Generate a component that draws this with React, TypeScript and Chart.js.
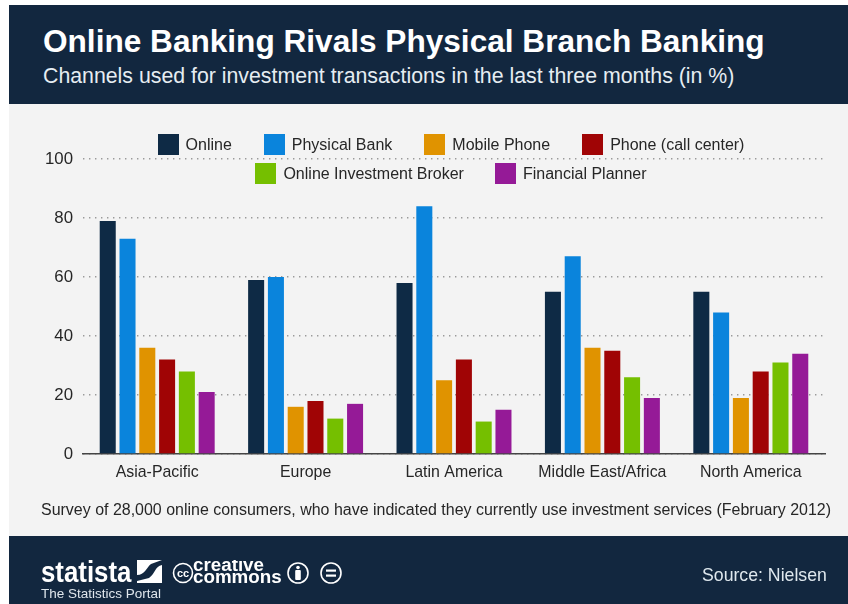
import React, { useEffect, useRef } from "react";
import { Chart, registerables } from "chart.js";

Chart.register(...registerables);

const regions = ["Asia-Pacific", "Europe", "Latin America", "Middle East/Africa", "North America"];
const online = [79, 59, 58, 55, 55];
const physicalBank = [73, 60, 84, 67, 48];
const mobilePhone = [36, 16, 25, 36, 19];
const callCenter = [32, 18, 32, 35, 28];
const investmentBroker = [28, 12, 11, 26, 31];
const financialPlanner = [21, 17, 15, 19, 34];
const yTicks = [0, 20, 40, 60, 80, 100];

const channelsRowOne = [
  { label: "Online", values: online, color: "#0e2a45" },
  { label: "Physical Bank", values: physicalBank, color: "#0a84dc" },
  { label: "Mobile Phone", values: mobilePhone, color: "#e09300" },
  { label: "Phone (call center)", values: callCenter, color: "#a00405" },
];
const channelsRowTwo = [
  { label: "Online Investment Broker", values: investmentBroker, color: "#75bf00" },
  { label: "Financial Planner", values: financialPlanner, color: "#951a97" },
];

const FONT = '"Liberation Sans", Arial, sans-serif';
const NAVY = "#12273f";

const box = (
  left: number,
  top: number,
  width: number,
  height: number,
  background: string
): React.CSSProperties => ({ position: "absolute", left, top, width, height, background });

const text = (
  left: number,
  top: number,
  size: number,
  color: string,
  extra: React.CSSProperties = {}
): React.CSSProperties => ({
  position: "absolute",
  left,
  top,
  fontFamily: FONT,
  fontSize: size,
  lineHeight: `${Math.round(size * 1.2)}px`,
  color,
  whiteSpace: "nowrap",
  ...extra,
});

function LegendRow({ items, top, gap }: { items: typeof channelsRowOne; top: number; gap: number }) {
  return (
    <div
      style={{
        position: "absolute",
        top,
        left: 51,
        width: 800,
        display: "flex",
        justifyContent: "center",
        gap,
      }}
    >
      {items.map((item) => (
        <div key={item.label} style={{ display: "flex", alignItems: "center", gap: 7 }}>
          <span style={{ width: 21, height: 21, background: item.color, display: "block" }} />
          <span style={{ fontFamily: FONT, fontSize: 16, color: "#262626", whiteSpace: "nowrap" }}>
            {item.label}
          </span>
        </div>
      ))}
    </div>
  );
}

export default function App() {
  const canvasRef = useRef<HTMLCanvasElement | null>(null);

  useEffect(() => {
    document.body.style.margin = "0";
    document.body.style.background = "#ffffff";
    const chart = new Chart(canvasRef.current!, {
      type: "bar",
      data: {
        labels: regions,
        datasets: [...channelsRowOne, ...channelsRowTwo].map((c) => ({
          label: c.label,
          data: c.values,
          backgroundColor: c.color,
          categoryPercentage: 0.8,
          barPercentage: 0.81,
        })),
      },
      options: {
        animation: false,
        responsive: false,
        layout: { padding: { top: 159, right: 23, bottom: 0, left: 0 } },
        plugins: { legend: { display: false }, tooltip: { enabled: false } },
        scales: {
          x: {
            afterFit: (scale) => {
              scale.height = 150;
            },
            grid: { display: false, drawTicks: false },
            border: { display: true, color: "#444444", width: 1.5 },
            ticks: {
              color: "#262626",
              padding: 9,
              maxRotation: 0,
              font: { family: FONT, size: 15.9 },
            },
          },
          y: {
            min: 0,
            max: 100,
            afterFit: (scale) => {
              scale.width = 83;
            },
            afterBuildTicks: (scale) => {
              scale.ticks = yTicks.map((value) => ({ value }));
            },
            grid: {
              color: "#9a9a9a",
              lineWidth: 1.4,
              drawTicks: false,
            },
            border: { display: false, dash: [1.4, 4.6] },
            ticks: {
              color: "#262626",
              padding: 10,
              font: { family: FONT, size: 16.8 },
            },
          },
        },
      },
    });
    return () => chart.destroy();
  }, []);

  return (
    <div style={{ position: "absolute", left: 0, top: 0, width: 848, height: 604, overflow: "hidden", background: "#fff" }}>
      <div style={box(9, 5, 839, 99, NAVY)} />
      <div style={box(9, 104, 839, 432, "#f3f3f3")} />
      <div style={box(9, 536, 839, 68, NAVY)} />

      <div style={text(43, 22, 31.6, "#ffffff", { fontWeight: 700 })}>
        Online Banking Rivals Physical Branch Banking
      </div>
      <div style={text(43, 63, 21.3, "#e6edf2")}>
        Channels used for investment transactions in the last three months (in %)
      </div>

      <canvas ref={canvasRef} width={848} height={604} style={{ position: "absolute", left: 0, top: 0 }} />

      <LegendRow items={channelsRowOne} top={134} gap={32} />
      <LegendRow items={channelsRowTwo} top={163} gap={31} />

      <div style={text(41, 500, 15.98, "#262626")}>
        Survey of 28,000 online consumers, who have indicated they currently use investment services (February 2012)
      </div>

      <div style={text(41, 554, 30, "#ffffff", { fontWeight: 700, transform: "scaleX(0.86)", transformOrigin: "left center" })}>
        statista
      </div>
      <svg style={{ position: "absolute", left: 137, top: 560 }} width={25} height={23} viewBox="0 0 25 23">
        <rect x="0" y="0" width="25" height="23" fill="#ffffff" />
        <path d="M0 15 C8 15 9 8 14 4 L25 0 L25 5 C18 6 18 14 12 18 L0 21 Z" fill={NAVY} />
      </svg>
      <div style={text(41, 586, 13.5, "#dfe6ec")}>The Statistics Portal</div>

      <svg style={{ position: "absolute", left: 172, top: 560 }} width={176} height={28} viewBox="0 0 176 28">
        <circle cx="11" cy="13" r="9.5" fill="none" stroke="#fff" strokeWidth="1.6" />
        <text x="11" y="17" textAnchor="middle" fill="#fff" fontFamily={FONT} fontWeight="700" fontSize="11">cc</text>
        <text x="21" y="11" fill="#fff" fontFamily={FONT} fontWeight="700" fontSize="18.8">creative</text>
        <text x="21" y="23" fill="#fff" fontFamily={FONT} fontWeight="700" fontSize="18.8">commons</text>
        <circle cx="126" cy="13" r="10" fill="none" stroke="#fff" strokeWidth="1.6" />
        <circle cx="126" cy="7.5" r="1.8" fill="#fff" />
        <rect x="123.2" y="10" width="5.6" height="10" rx="1" fill="#fff" />
        <circle cx="159" cy="13" r="10" fill="none" stroke="#fff" strokeWidth="1.6" />
        <rect x="154" y="9.5" width="10" height="2.2" fill="#fff" />
        <rect x="154" y="14.5" width="10" height="2.2" fill="#fff" />
      </svg>

      <div style={text(702, 565, 17.7, "#dfe8ee")}>Source: Nielsen</div>
    </div>
  );
}
